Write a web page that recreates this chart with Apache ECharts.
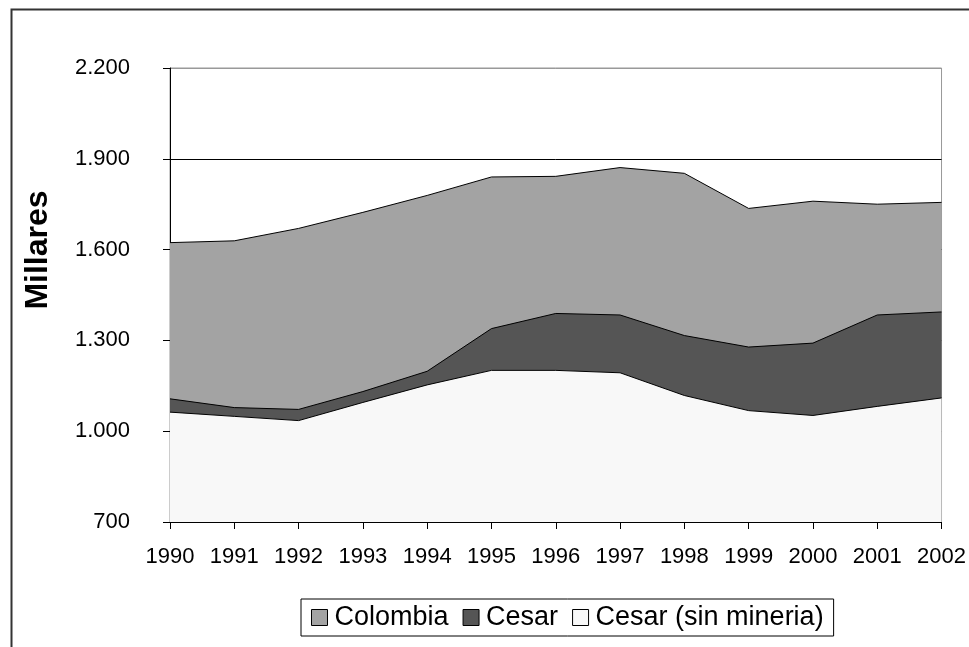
<!DOCTYPE html>
<html>
<head>
<meta charset="utf-8">
<script src="https://cdn.jsdelivr.net/npm/echarts@6/dist/echarts.min.js"></script>
<style>html,body{margin:0;padding:0;background:#fff}#c{width:969px;height:647px}</style>
</head>
<body>
<div id="c"></div>
<script>
var years = ['1990','1991','1992','1993','1994','1995','1996','1997','1998','1999','2000','2001','2002'];
var colombia = [1623, 1629, 1670, 1723, 1779, 1840, 1842, 1871, 1852, 1736, 1760, 1750, 1756];
var cesar = [1107, 1078, 1072, 1131, 1198, 1339, 1389, 1384, 1316, 1278, 1291, 1384, 1394];
var cesarSinMineria = [1063, 1049, 1035, 1095, 1153, 1201, 1201, 1193, 1118, 1068, 1052, 1082, 1110];
var seriesNames = ['Colombia', 'Cesar', 'Cesar (sin mineria)'];
var yTitle = 'Millares';

var font = 'Liberation Sans, Arial, sans-serif';
var chart = echarts.init(document.getElementById('c'), null, {renderer: 'canvas'});
function fmt(v) { return String(v).replace(/\B(?=(\d{3})+(?!\d))/g, '.'); }
function mk(name, data, color) {
  return {
    name: name, type: 'line', data: data, symbol: 'none', smooth: false,
    lineStyle: {color: '#000', width: 1},
    itemStyle: {color: color, borderColor: '#000', borderWidth: 1},
    areaStyle: {color: color, opacity: 1, origin: 'start'},
    emphasis: {disabled: true}, animation: false
  };
}
chart.setOption({
  animation: false,
  backgroundColor: '#fff',
  grid: {left: 170, right: 24, top: 68, bottom: 125, show: true, borderColor: '#999', borderWidth: 1, backgroundColor: '#fff'},
  xAxis: {
    type: 'category', data: years, boundaryGap: false,
    axisLine: {lineStyle: {color: '#000', width: 1}},
    axisTick: {show: true, length: 7, lineStyle: {color: '#000'}},
    axisLabel: {color: '#000', fontSize: 22, fontFamily: font, margin: 24},
    splitLine: {show: false}
  },
  yAxis: {
    type: 'value', min: 700, max: 2200, interval: 300,
    axisLine: {show: true, lineStyle: {color: '#000', width: 1}},
    axisTick: {show: true, length: 7, lineStyle: {color: '#000'}},
    axisLabel: {color: '#000', fontSize: 22, fontFamily: font, margin: 40, formatter: fmt},
    splitLine: {show: true, lineStyle: {color: ['#000', '#000', '#000', '#000', '#000', '#999'], width: 1}}
  },
  legend: {
    data: seriesNames, left: 301, top: 599, orient: 'horizontal',
    icon: 'rect', itemWidth: 16, itemHeight: 16, itemGap: 14,
    padding: [5, 10, 5, 10],
    borderColor: '#000', borderWidth: 1,
    itemStyle: {borderColor: '#000', borderWidth: 1},
    textStyle: {color: '#000', fontSize: 27, fontFamily: font, padding: [0, 0, 0, 2]}
  },
  graphic: [
    {type: 'rect', left: 9, top: 7, shape: {width: 1000, height: 700}, style: {fill: 'none', stroke: '#333', lineWidth: 2}, z: -1, silent: true},
    {type: 'text', x: 38, y: 250, rotation: Math.PI / 2, style: {text: yTitle, font: 'bold 32px ' + font, fill: '#000', align: 'center', verticalAlign: 'middle'}, silent: true}
  ],
  series: [
    mk(seriesNames[0], colombia, '#a3a3a3'),
    mk(seriesNames[1], cesar, '#555555'),
    mk(seriesNames[2], cesarSinMineria, '#f8f8f8')
  ]
});
</script>
</body>
</html>
